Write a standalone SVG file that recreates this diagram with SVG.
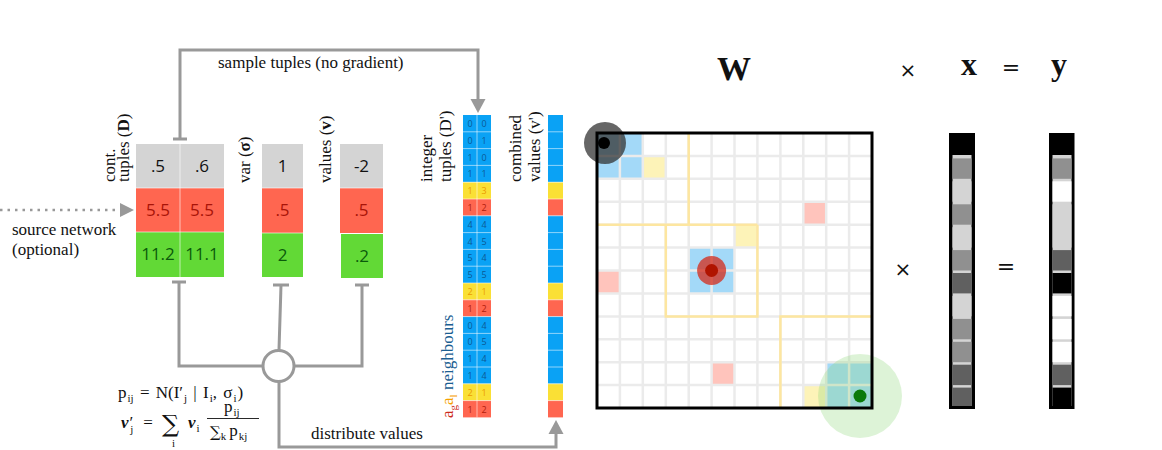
<svg xmlns="http://www.w3.org/2000/svg" width="1162" height="450" viewBox="0 0 1162 450">
<style>
.lbl{font-family:"Liberation Serif",serif;font-size:17px;fill:#111}
.num{font-family:"Open Sans","Liberation Sans",sans-serif;font-size:17px;text-anchor:middle}
.sm{font-family:"Open Sans","Liberation Sans",sans-serif;font-size:9px;text-anchor:middle}
.conn{fill:none;stroke:#999;stroke-width:3}
.head{fill:#999}
.gray{fill:#d4d4d4}.red{fill:#ff6650}.grn{fill:#62d936}
.tb{fill:#111}.tr{fill:#a81408}.tg{fill:#0b5b0b}
.cb{fill:#0aa2f5}.cy{fill:#fae035}.cr{fill:#ff6650}
.sb{fill:#0b5a95}.sy{fill:#ec9a00}.sr{fill:#b01c0c}
.grid{stroke:#ebebeb;stroke-width:2.5}
.yl{stroke:#fde6a0;stroke-width:2.5;fill:none}
.math{font-family:"Liberation Serif","DejaVu Serif",serif;font-size:17px;fill:#111}
.s{font-size:11px}
.sub{font-family:"Liberation Serif","DejaVu Serif",serif;font-size:11px;fill:#111}
.big{font-family:"Liberation Serif",serif;font-weight:bold;fill:#111}
.op{font-family:"DejaVu Sans",sans-serif;fill:#111}
</style>

<g id="connectors">
<path class="conn" d="M180,139 V50 H478 V100"/>
<path class="head" d="M470.5,99 L485.5,99 L478,113 z"/>
<path class="conn" d="M173,139 H187"/>
<path d="M0,210 H122" fill="none" stroke="#999" stroke-width="2.5" stroke-dasharray="2.5,5"/>
<path class="head" d="M120,203 L134,210 L120,217 z"/>
<path class="conn" d="M179,282 V366 H263"/>
<path class="conn" d="M172,282 H186"/>
<path class="conn" d="M281,285 L279,350"/>
<path class="conn" d="M273,285 H289"/>
<path class="conn" d="M294,366 H362 V285"/>
<path class="conn" d="M355,285 H369"/>
<path class="conn" d="M279,381 V447 H556 V433"/>
<path class="head" d="M548.5,434 L563.5,434 L556,420 z"/>
<circle cx="278.5" cy="366" r="15.5" fill="#fff" stroke="#999" stroke-width="3"/>
<text class="lbl" x="218" y="68">sample tuples (no gradient)</text>
<text class="lbl" x="311" y="439">distribute values</text>
</g>

<g id="source-label">
<text class="lbl" x="12" y="235">source network</text>
<text class="lbl" x="12" y="255">(optional)</text>
</g>

<g id="cont-tuples">
<text class="lbl" transform="translate(115,182) rotate(-90)">cont.</text>
<text class="lbl" transform="translate(129,182) rotate(-90)">tuples (<tspan font-weight="bold">D</tspan>)</text>
<rect class="gray" x="136" y="144" width="88" height="44"/>
<rect class="red" x="136" y="188" width="88" height="44"/>
<rect class="grn" x="136" y="232" width="88" height="45"/>
<path d="M180,144 V277 M136,188 H224 M136,232 H224" stroke="#fff" stroke-opacity="0.6" stroke-width="1"/>
<text class="num tb" x="158" y="172">.5</text><text class="num tb" x="202" y="172">.6</text>
<text class="num tr" x="158" y="216">5.5</text><text class="num tr" x="202" y="216">5.5</text>
<text class="num tg" x="158" y="260">11.2</text><text class="num tg" x="202" y="260">11.1</text>
</g>

<g id="var">
<text class="lbl" transform="translate(250,183) rotate(-90)">var (<tspan font-weight="bold">σ</tspan>)</text>
<rect class="gray" x="262" y="144" width="41" height="44"/>
<rect class="red" x="262" y="188" width="41" height="45"/>
<rect class="grn" x="262" y="233" width="41" height="44"/>
<path d="M262,188 H303 M262,233 H303" stroke="#fff" stroke-opacity="0.6" stroke-width="1"/>
<text class="num tb" x="282.5" y="172">1</text>
<text class="num tr" x="282.5" y="216">.5</text>
<text class="num tg" x="282.5" y="261">2</text>
</g>

<g id="values">
<text class="lbl" transform="translate(331,183) rotate(-90)">values (<tspan font-weight="bold">v</tspan>)</text>
<rect class="gray" x="340" y="144" width="43" height="44"/>
<rect class="red" x="340" y="188" width="43" height="45"/>
<rect class="grn" x="341" y="234" width="42" height="44"/>
<path d="M340,188 H383" stroke="#fff" stroke-opacity="0.6" stroke-width="1"/>
<text class="num tb" x="361.5" y="172">-2</text>
<text class="num tr" x="361.5" y="216">.5</text>
<text class="num tg" x="362" y="262">.2</text>
</g>

<g id="integer-tuples">
<text class="lbl" transform="translate(432,182) rotate(-90)">integer</text>
<text class="lbl" transform="translate(451,182) rotate(-90)">tuples (D')</text>
<text class="lbl" transform="translate(453,418) rotate(-90)"><tspan fill="#cc2a1a">a<tspan font-size="11" dy="4">g</tspan></tspan><tspan fill="#f5a000" dy="-4">a<tspan font-size="11" dy="4">l</tspan></tspan><tspan fill="#1b5e91" dy="-4"> neighbours</tspan></text>
<g>
<rect class="cb" x="463" y="115" width="28" height="67.2"/>
<rect class="cy" x="463" y="182.2" width="28" height="16.8"/>
<rect class="cr" x="463" y="199" width="28" height="16.8"/>
<rect class="cb" x="463" y="215.8" width="28" height="67.2"/>
<rect class="cy" x="463" y="283" width="28" height="16.8"/>
<rect class="cr" x="463" y="299.8" width="28" height="16.8"/>
<rect class="cb" x="463" y="316.6" width="28" height="67.2"/>
<rect class="cy" x="463" y="383.8" width="28" height="16.8"/>
<rect class="cr" x="463" y="400.6" width="28" height="16.8"/>
<path d="M477,115 V417.4 M463,131.8 H491 M463,148.6 H491 M463,165.4 H491 M463,182.2 H491 M463,199 H491 M463,215.8 H491 M463,232.6 H491 M463,249.4 H491 M463,266.2 H491 M463,283 H491 M463,299.8 H491 M463,316.6 H491 M463,333.4 H491 M463,350.2 H491 M463,367 H491 M463,383.8 H491 M463,400.6 H491" stroke="#fff" stroke-opacity="0.55" stroke-width="1"/>
</g>
<g>
<text class="sm sb" x="470" y="127">0</text><text class="sm sb" x="484" y="127">0</text>
<text class="sm sb" x="470" y="144">0</text><text class="sm sb" x="484" y="144">1</text>
<text class="sm sb" x="470" y="160.5">1</text><text class="sm sb" x="484" y="160.5">0</text>
<text class="sm sb" x="470" y="177.3">1</text><text class="sm sb" x="484" y="177.3">1</text>
<text class="sm sy" x="470" y="194.1">1</text><text class="sm sy" x="484" y="194.1">3</text>
<text class="sm sr" x="470" y="210.9">1</text><text class="sm sr" x="484" y="210.9">2</text>
<text class="sm sb" x="470" y="227.7">4</text><text class="sm sb" x="484" y="227.7">4</text>
<text class="sm sb" x="470" y="244.5">4</text><text class="sm sb" x="484" y="244.5">5</text>
<text class="sm sb" x="470" y="261.3">5</text><text class="sm sb" x="484" y="261.3">4</text>
<text class="sm sb" x="470" y="278.1">5</text><text class="sm sb" x="484" y="278.1">5</text>
<text class="sm sy" x="470" y="294.9">2</text><text class="sm sy" x="484" y="294.9">1</text>
<text class="sm sr" x="470" y="311.7">1</text><text class="sm sr" x="484" y="311.7">2</text>
<text class="sm sb" x="470" y="328.5">0</text><text class="sm sb" x="484" y="328.5">4</text>
<text class="sm sb" x="470" y="345.3">0</text><text class="sm sb" x="484" y="345.3">5</text>
<text class="sm sb" x="470" y="362.1">1</text><text class="sm sb" x="484" y="362.1">4</text>
<text class="sm sb" x="470" y="378.9">1</text><text class="sm sb" x="484" y="378.9">4</text>
<text class="sm sy" x="470" y="395.7">2</text><text class="sm sy" x="484" y="395.7">1</text>
<text class="sm sr" x="470" y="412.5">1</text><text class="sm sr" x="484" y="412.5">2</text>
</g>
</g>

<g id="combined-values">
<text class="lbl" transform="translate(521,182) rotate(-90)">combined</text>
<text class="lbl" transform="translate(540,182) rotate(-90)">values (v')</text>
<rect class="cb" x="548" y="115" width="15" height="67.2"/>
<rect class="cy" x="548" y="182.2" width="15" height="16.8"/>
<rect class="cr" x="548" y="199" width="15" height="16.8"/>
<rect class="cb" x="548" y="215.8" width="15" height="67.2"/>
<rect class="cy" x="548" y="283" width="15" height="16.8"/>
<rect class="cr" x="548" y="299.8" width="15" height="16.8"/>
<rect class="cb" x="548" y="316.6" width="15" height="67.2"/>
<rect class="cy" x="548" y="383.8" width="15" height="16.8"/>
<rect class="cr" x="548" y="400.6" width="15" height="16.8"/>
<path d="M548,131.8 H563 M548,148.6 H563 M548,165.4 H563 M548,182.2 H563 M548,199 H563 M548,215.8 H563 M548,232.6 H563 M548,249.4 H563 M548,266.2 H563 M548,283 H563 M548,299.8 H563 M548,316.6 H563 M548,333.4 H563 M548,350.2 H563 M548,367 H563 M548,383.8 H563 M548,400.6 H563" stroke="#fff" stroke-opacity="0.55" stroke-width="1"/>
</g>

<g id="formula">
<text class="math" x="118" y="398" font-size="18" word-spacing="2">p<tspan class="s" dx="1" dy="4">ij</tspan><tspan dy="-4"> = N(I′</tspan><tspan class="s" dx="1" dy="4">j</tspan><tspan dy="-4"> | I</tspan><tspan class="s" dx="1" dy="4">i</tspan><tspan dy="-4">, σ</tspan><tspan class="s" dx="1" dy="4">i</tspan><tspan dx="1" dy="-4">)</tspan></text>
<text class="math" x="121" y="428"><tspan font-style="italic" font-weight="bold">v</tspan><tspan dx="1">′</tspan><tspan class="s" dx="-3" dy="5">j</tspan><tspan dx="10" dy="-5">=</tspan></text>
<text x="162" y="432" font-family="DejaVu Serif,serif" font-size="24" fill="#111">∑</text>
<text class="sub" x="172" y="447">i</text>
<text class="math" x="188" y="428"><tspan font-style="italic" font-weight="bold">v</tspan><tspan class="s" dx="1" dy="4">i</tspan></text>
<text class="math" x="224" y="412">p<tspan class="s" dx="1" dy="4">ij</tspan></text>
<path d="M207,418.5 H259" stroke="#111" stroke-width="0.9"/>
<text x="210" y="437" font-family="DejaVu Serif,serif" font-size="15" fill="#111">∑<tspan font-family="Liberation Serif,serif" font-size="11" dy="3">k</tspan><tspan font-family="Liberation Serif,serif" font-size="17" dx="3" dy="-4">p</tspan><tspan font-family="Liberation Serif,serif" font-size="11" dx="1" dy="4">kj</tspan></text>
</g>

<g id="matrix-W">
<rect x="597" y="133" width="275" height="275" fill="#fff"/>
<rect x="597" y="133" width="45.8" height="45.8" fill="#a3d9f8"/>
<rect x="642.8" y="155.9" width="22.9" height="22.9" fill="#fdf3b8"/>
<rect x="688.7" y="247.6" width="45.8" height="45.8" fill="#a3d9f8"/>
<rect x="734.5" y="224.7" width="22.9" height="22.9" fill="#fdf3b8"/>
<rect x="597" y="270.5" width="22.9" height="22.9" fill="#ffc4bc"/>
<rect x="803.3" y="201.8" width="22.9" height="22.9" fill="#ffc4bc"/>
<rect x="711.6" y="362.2" width="22.9" height="22.9" fill="#ffc4bc"/>
<rect x="803.3" y="385.1" width="22.9" height="22.9" fill="#fdf3b8"/>
<rect x="826.2" y="362.2" width="45.8" height="45.8" fill="#a3d9f8"/>
<path class="grid" d="M619.9,133V408M642.8,133V408M665.8,133V408M688.7,133V408M711.6,133V408M734.5,133V408M757.4,133V408M780.4,133V408M803.3,133V408M826.2,133V408M849.1,133V408M597,155.9H872M597,178.8H872M597,201.8H872M597,224.7H872M597,247.6H872M597,270.5H872M597,293.4H872M597,316.4H872M597,339.3H872M597,362.2H872M597,385.1H872"/>
<path class="yl" d="M688.7,133V224.7M597,224.7H757.4M665.8,224.7V316.4H757.4V224.7M780.4,408V316.4H872"/>
<circle cx="605" cy="143" r="21" fill="#333" fill-opacity="0.75"/>
<circle cx="604" cy="143" r="6" fill="#000"/>
<circle cx="711.6" cy="270.5" r="14.5" fill="#d42a1a" fill-opacity="0.75"/>
<circle cx="711.6" cy="270.5" r="6.5" fill="#b01400"/>
<circle cx="860" cy="396" r="42" fill="#8fd67a" fill-opacity="0.3"/>
<circle cx="860" cy="396" r="6.5" fill="#0a7a0a"/>
<rect x="597" y="133" width="275" height="275" fill="none" stroke="#000" stroke-width="3"/>
<text class="big" x="734" y="80" font-size="34" text-anchor="middle">W</text>
</g>

<g id="vector-x">
<rect x="949" y="133" width="26" height="276" fill="#000"/>
<rect x="952.5" y="155" width="19" height="251" fill="#d4d4d4"/>
<rect x="952.5" y="158.4" width="19" height="20.4" fill="#909090"/>
<rect x="952.5" y="181.3" width="19" height="20.4" fill="#d4d4d4"/>
<rect x="952.5" y="204.3" width="19" height="20.4" fill="#909090"/>
<rect x="952.5" y="227.2" width="19" height="20.4" fill="#d4d4d4"/>
<rect x="952.5" y="250.1" width="19" height="20.4" fill="#909090"/>
<rect x="952.5" y="273" width="19" height="20.4" fill="#606060"/>
<rect x="952.5" y="295.9" width="19" height="20.4" fill="#d4d4d4"/>
<rect x="952.5" y="318.9" width="19" height="20.4" fill="#909090"/>
<rect x="952.5" y="341.8" width="19" height="20.4" fill="#909090"/>
<rect x="952.5" y="364.7" width="19" height="20.4" fill="#606060"/>
<rect x="952.5" y="387.6" width="19" height="18.4" fill="#606060"/>
<text class="big" x="969" y="75" font-size="32" text-anchor="middle">x</text>
</g>

<g id="vector-y">
<rect x="1049" y="133" width="25.5" height="276" fill="#000"/>
<rect x="1052.5" y="155" width="19" height="251" fill="#d4d4d4"/>
<rect x="1052.5" y="158.4" width="19" height="20.4" fill="#909090"/>
<rect x="1052.5" y="181.3" width="19" height="20.4" fill="#ffffff"/>
<rect x="1052.5" y="204.3" width="19" height="43.3" fill="#d4d4d4"/>
<rect x="1052.5" y="250.1" width="19" height="20.4" fill="#606060"/>
<rect x="1052.5" y="273" width="19" height="20.4" fill="#000"/>
<rect x="1052.5" y="295.9" width="19" height="20.4" fill="#ffffff"/>
<rect x="1052.5" y="318.9" width="19" height="20.4" fill="#ffffff"/>
<rect x="1052.5" y="341.8" width="19" height="20.4" fill="#ffffff"/>
<rect x="1052.5" y="364.7" width="19" height="20.4" fill="#606060"/>
<rect x="1052.5" y="387.6" width="19" height="18.4" fill="#000"/>
<text class="big" x="1059" y="75" font-size="32" text-anchor="middle">y</text>
</g>

<g id="operators">
<text class="op" x="908" y="77" font-size="20" text-anchor="middle">×</text>
<text class="op" x="1011" y="75" font-size="22" text-anchor="middle">=</text>
<text class="op" x="903" y="276" font-size="20" text-anchor="middle">×</text>
<text class="op" x="1006" y="274" font-size="22" text-anchor="middle">=</text>
</g>
</svg>
